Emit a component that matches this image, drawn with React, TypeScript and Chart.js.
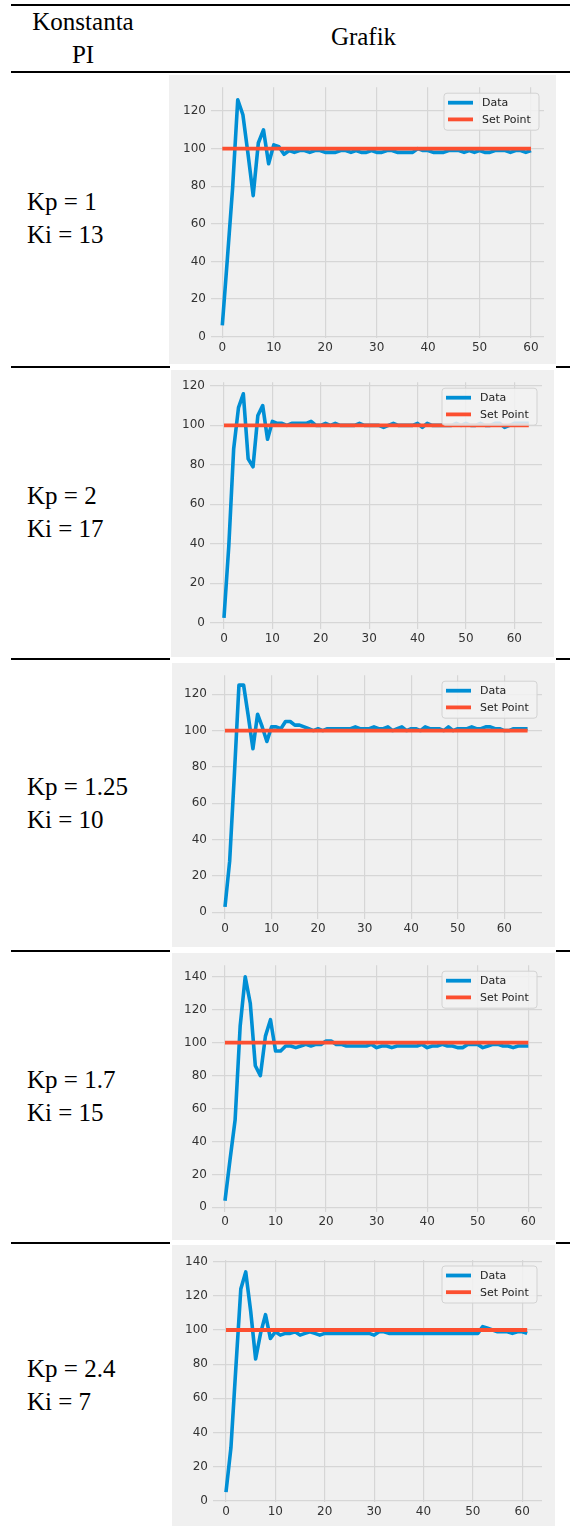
import React, { useEffect, useRef } from "react";
import { Chart, registerables } from "chart.js";

Chart.register(...registerables);

// ---------- data ----------
const SET_POINT = 100;

const kpValues = ["1", "2", "1.25", "1.7", "2.4"];
const kiValues = ["13", "17", "10", "15", "7"];

const data1 = [
  6, 42, 79, 126, 118, 97, 75, 103, 110, 92,
  102, 101, 97, 99, 98, 99, 99, 98, 99, 99,
  98, 98, 98, 99, 99, 98, 99, 98, 98, 99,
  98, 98, 99, 99, 98, 98, 98, 98, 100, 99,
  99, 98, 98, 98, 99, 99, 99, 98, 99, 98,
  99, 98, 98, 99, 99, 99, 98, 99, 99, 98, 99,
];

const data2 = [
  2.5, 39, 88, 109, 116, 83, 79, 105, 110, 93,
  102, 101, 101, 100, 101, 101, 101, 101, 102, 100,
  100, 101, 100, 101, 100, 100, 100, 100, 101, 100,
  100, 100, 100, 99, 100, 101, 100, 100, 100, 100,
  101, 99, 101, 100, 100, 100, 100, 100, 101, 100,
  101, 100, 100, 101, 100, 100, 101, 101, 99, 100,
  101, 101, 101, 101,
];

const data3 = [
  3, 28, 75, 125, 125, 108, 90, 109, 102, 94,
  102, 102, 101, 105, 105, 103, 103, 102, 101, 100,
  101, 100, 101, 101, 101, 101, 101, 101, 102, 101,
  101, 101, 102, 101, 101, 102, 100, 101, 102, 100,
  101, 101, 100, 102, 101, 101, 101, 100, 102, 100,
  101, 101, 101, 102, 101, 101, 102, 102, 101, 101,
  100, 100, 101, 101, 101, 101,
];

const data4 = [
  4, 29, 53, 110, 140, 124, 86, 80, 104, 114,
  95, 95, 98, 98, 97, 98, 99, 98, 99, 99,
  101, 101, 99, 99, 98, 98, 98, 98, 98, 99,
  97, 98, 98, 97, 98, 98, 98, 98, 98, 99,
  97, 98, 98, 99, 98, 98, 97, 97, 99, 99,
  99, 97, 98, 99, 99, 98, 98, 97, 98, 98, 98,
];

const data5 = [
  5, 31, 78, 124, 134, 111, 83, 98, 109, 95,
  99, 97, 98, 98, 99, 97, 98, 99, 98, 97,
  98, 98, 98, 98, 98, 98, 98, 98, 98, 98,
  97, 99, 99, 98, 98, 98, 98, 98, 98, 98,
  98, 98, 98, 98, 98, 98, 98, 98, 98, 98,
  98, 98, 102, 101, 100, 99, 99, 99, 98, 99,
  99, 98,
];

const seriesList = [data1, data2, data3, data4, data5];

const X_STEP = 10;
const Y_STEP = 20;

// ---------- styling / layout ----------
const COLORS = {
  data: "#008fd5",
  setPoint: "#fc4f30",
  panel: "#f0f0f0",
  grid: "#d6d6d6",
  tick: "#333333",
};

type PanelLayout = {
  box: number[]; // left, top, right, bottom (page px)
  plot: number[]; // left, top, right, bottom (page px)
  xLim: number[];
  yLim: number[];
};

const panels: PanelLayout[] = [
  { box: [169, 75, 556, 364], plot: [211, 85, 544, 337.5], xLim: [-2.2, 62.53], yLim: [-0.42, 132.65] },
  { box: [171, 370, 554, 657], plot: [210, 382, 542, 629], xLim: [-2.89, 65.73], yLim: [-3.19, 121.87] },
  { box: [172, 663, 555, 947], plot: [212, 675, 542, 918.5], xLim: [-2.79, 68.1], yLim: [-3.41, 130.46] },
  { box: [172, 953, 555, 1240], plot: [212, 965, 542, 1212], xLim: [-2.57, 62.71], yLim: [-2.85, 147.1] },
  { box: [172, 1245, 555, 1526], plot: [213, 1260, 542, 1502], xLim: [-2.63, 64.0], yLim: [-0.76, 141.0] },
];

const rowLabelTops = [185, 479, 770, 1063, 1352];
const rowLines = [367, 659, 951, 1243];

const legendPlugin = {
  id: "mplLegend",
  afterDatasetsDraw(chart: any) {
    const { ctx, chartArea } = chart;
    const w = 95;
    const h = 37;
    const x = chartArea.right - 5 - w;
    const y = chartArea.top + 6;
    ctx.save();
    ctx.beginPath();
    const r = 3;
    ctx.moveTo(x + r, y);
    ctx.lineTo(x + w - r, y);
    ctx.arcTo(x + w, y, x + w, y + r, r);
    ctx.lineTo(x + w, y + h - r);
    ctx.arcTo(x + w, y + h, x + w - r, y + h, r);
    ctx.lineTo(x + r, y + h);
    ctx.arcTo(x, y + h, x, y + h - r, r);
    ctx.lineTo(x, y + r);
    ctx.arcTo(x, y, x + r, y, r);
    ctx.closePath();
    ctx.fillStyle = "rgba(242,242,242,0.85)";
    ctx.fill();
    ctx.strokeStyle = "#d2d2d2";
    ctx.lineWidth = 1;
    ctx.stroke();
    chart.data.datasets.forEach((ds: any, i: number) => {
      const yy = y + 9.5 + i * 16.7;
      ctx.beginPath();
      ctx.strokeStyle = ds.borderColor;
      ctx.lineWidth = 3.8;
      ctx.moveTo(x + 4, yy);
      ctx.lineTo(x + 29, yy);
      ctx.stroke();
      ctx.fillStyle = "#222222";
      ctx.font = '11px "DejaVu Sans"';
      ctx.textBaseline = "middle";
      ctx.textAlign = "left";
      ctx.fillText(ds.label, x + 38, yy + 0.5);
    });
    ctx.restore();
  },
};

function ChartPanel({ values, layout }: { values: number[]; layout: PanelLayout }) {
  const ref = useRef<HTMLCanvasElement>(null);
  const [bl, bt, br, bb] = layout.box;
  const [pl, pt, pr, pb] = layout.plot;
  const W = br - bl;
  const H = bb - bt;

  useEffect(() => {
    const tickFont = { family: '"DejaVu Sans"', size: 12 };
    const chart = new Chart(ref.current as HTMLCanvasElement, {
      type: "line",
      data: {
        datasets: [
          {
            label: "Data",
            data: values.map((v, i) => ({ x: i, y: v })),
            borderColor: COLORS.data,
            backgroundColor: COLORS.data,
            borderWidth: 3.6,
            pointRadius: 0,
            tension: 0,
            borderJoinStyle: "round",
            order: 2,
          },
          {
            label: "Set Point",
            data: values.map((_, i) => ({ x: i, y: SET_POINT })),
            borderColor: COLORS.setPoint,
            backgroundColor: COLORS.setPoint,
            borderWidth: 3.8,
            pointRadius: 0,
            tension: 0,
            order: 1,
          },
        ],
      },
      options: {
        responsive: false,
        animation: false,
        devicePixelRatio: 1,
        events: [],
        layout: {
          autoPadding: false,
          padding: { top: pt - bt, right: br - pr, left: 0, bottom: 0 },
        },
        plugins: {
          legend: { display: false },
          tooltip: { enabled: false },
        },
        scales: {
          x: {
            type: "linear",
            min: layout.xLim[0],
            max: layout.xLim[1],
            border: { display: false },
            grid: { color: COLORS.grid, lineWidth: 1.2, drawTicks: false },
            ticks: {
              stepSize: X_STEP,
              includeBounds: false,
              padding: 3,
              maxRotation: 0,
              color: COLORS.tick,
              font: tickFont,
            },
            afterFit: (s: any) => {
              s.height = bb - pb;
            },
          },
          y: {
            type: "linear",
            min: layout.yLim[0],
            max: layout.yLim[1],
            border: { display: false },
            grid: { color: COLORS.grid, lineWidth: 1.2, drawTicks: false },
            ticks: {
              stepSize: Y_STEP,
              includeBounds: false,
              padding: 5,
              color: COLORS.tick,
              font: tickFont,
            },
            afterFit: (s: any) => {
              s.width = pl - bl;
            },
          },
        },
      } as any,
      plugins: [legendPlugin],
    });
    return () => chart.destroy();
  }, []);

  return (
    <canvas
      ref={ref}
      width={W}
      height={H}
      style={{
        position: "absolute",
        left: bl,
        top: bt,
        width: W,
        height: H,
        background: COLORS.panel,
        display: "block",
      }}
    />
  );
}

const serif = '"Liberation Serif", "Times New Roman", serif';

function HLine({ x1, x2, y }: { x1: number; x2: number; y: number }) {
  return (
    <div
      style={{
        position: "absolute",
        left: x1,
        top: y - 1,
        width: x2 - x1,
        height: 2,
        background: "#000",
      }}
    />
  );
}

export default function App() {
  return (
    <div
      style={{
        position: "absolute",
        left: 0,
        top: 0,
        width: 570,
        height: 1526,
        overflow: "hidden",
        background: "#fff",
        fontFamily: serif,
        color: "#000",
      }}
    >
      <HLine x1={11} x2={570} y={5} />
      <HLine x1={11} x2={570} y={72} />
      <div
        style={{
          position: "absolute",
          left: 0,
          top: 4.6,
          width: 166,
          textAlign: "center",
          fontSize: 25,
          lineHeight: "33px",
        }}
      >
        Konstanta
        <br />
        PI
      </div>
      <div
        style={{
          position: "absolute",
          left: 263.5,
          top: 20,
          width: 200,
          textAlign: "center",
          fontSize: 25,
          lineHeight: "33px",
        }}
      >
        Grafik
      </div>

      {rowLines.map((y, i) => (
        <React.Fragment key={"l" + i}>
          <HLine x1={11} x2={170} y={y} />
          <HLine x1={556} x2={570} y={y} />
        </React.Fragment>
      ))}

      {kpValues.map((kp, i) => (
        <div
          key={"t" + i}
          style={{
            position: "absolute",
            left: 27,
            top: rowLabelTops[i],
            fontSize: 25,
            lineHeight: "33px",
            whiteSpace: "nowrap",
          }}
        >
          Kp = {kp}
          <br />
          Ki = {kiValues[i]}
        </div>
      ))}

      {seriesList.map((values, i) => (
        <ChartPanel key={"c" + i} values={values} layout={panels[i]} />
      ))}
    </div>
  );
}
